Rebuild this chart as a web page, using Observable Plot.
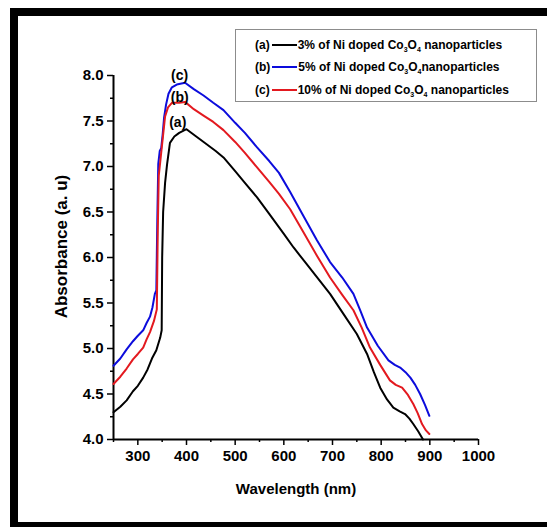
<!DOCTYPE html>
<html><head><meta charset="utf-8">
<script src="https://cdn.jsdelivr.net/npm/d3@7"></script>
<script src="https://cdn.jsdelivr.net/npm/@observablehq/plot@0.6"></script>
<style>
html,body{margin:0;padding:0;background:#fff;}
#wrap{position:relative;width:547px;height:527px;overflow:hidden;font-family:"Liberation Sans",Arial,sans-serif;background:#fff;}
#chart{position:absolute;left:0;top:0;}
.bar{position:absolute;background:#000;}
#legend{position:absolute;left:235px;top:29px;width:302px;height:73px;border:1px solid #8c8c8c;box-sizing:border-box;background:#fff;}
.row{position:absolute;left:19px;height:16px;line-height:16px;font-weight:bold;font-size:12px;white-space:nowrap;color:#000;}
.row .sw{display:inline-block;width:25px;height:2px;vertical-align:middle;margin:0 1px 0 2px;position:relative;top:-1px;}
.row sub{font-size:7px;vertical-align:-3px;line-height:0;}
</style>
</head><body>
<div id="wrap">
  <div id="chart"></div>
  <div id="legend"></div>
  <div class="bar" style="left:10px;top:8px;width:537px;height:8px"></div>
  <div class="bar" style="left:10px;top:8px;width:8px;height:519px"></div>
  <div class="bar" style="left:10px;top:522px;width:537px;height:5px"></div>
</div>
<script>
// ---- data ----
const seriesKeys = ["a", "b", "c"];
const seriesTags = ["(a)", "(b)", "(c)"];
const seriesNames = [
  "3% of Ni doped Co<sub>3</sub>O<sub>4</sub> nanoparticles",
  "5% of Ni doped Co<sub>3</sub>O<sub>4</sub>nanoparticles",
  "10% of Ni doped Co<sub>3</sub>O<sub>4</sub> nanoparticles"
];
const seriesColors = ["#000000", "#0c0cdc", "#e3191f"];

const wlA = [250,264,277,290,300,311,320,329,338,346,349,350,352,356,360,366,375,385,400,420,440,460,476,500,520,545,570,600,620,645,670,695,720,750,771,785,798,812,825,838,849,858,866,876,886];
const absA = [4.30,4.36,4.43,4.53,4.59,4.68,4.77,4.89,4.98,5.12,5.20,6.00,6.50,6.82,7.02,7.26,7.33,7.37,7.41,7.33,7.25,7.17,7.10,6.95,6.82,6.66,6.48,6.26,6.11,5.94,5.77,5.60,5.40,5.16,4.94,4.74,4.57,4.44,4.35,4.31,4.28,4.23,4.17,4.09,4.00];

const wlB = [250,264,277,290,300,311,318,325,330,335,338,340,342,345,348,351,354,358,363,370,380,397,415,435,455,476,500,520,545,570,590,613,640,668,695,720,743,757,771,793,815,828,839,850,860,870,880,890,899];
const absB = [4.81,4.89,4.99,5.08,5.14,5.20,5.28,5.35,5.45,5.60,5.64,6.40,7.03,7.17,7.20,7.35,7.54,7.68,7.80,7.87,7.90,7.92,7.85,7.78,7.70,7.62,7.48,7.37,7.21,7.06,6.93,6.72,6.46,6.19,5.95,5.78,5.60,5.42,5.23,5.03,4.87,4.82,4.79,4.74,4.68,4.60,4.50,4.38,4.26];

const wlC = [250,264,277,290,300,311,318,325,333,339,341,343,347,350,356,362,370,385,397,415,435,455,476,500,520,545,570,590,613,640,668,695,720,743,760,777,798,818,830,843,855,866,875,884,892,899];
const absC = [4.61,4.69,4.78,4.88,4.94,5.01,5.10,5.18,5.30,5.43,6.30,6.90,7.10,7.25,7.55,7.65,7.70,7.70,7.71,7.63,7.56,7.49,7.40,7.27,7.15,6.99,6.83,6.70,6.53,6.28,6.02,5.78,5.59,5.42,5.23,5.01,4.82,4.65,4.60,4.57,4.49,4.39,4.29,4.17,4.10,4.06];

const xMajorTicks = [300,400,500,600,700,800,900,1000];
const xMinorTicks = [250,350,450,550,650,750,850,950];
const yMajorTicks = [4.0,4.5,5.0,5.5,6.0,6.5,7.0,7.5,8.0];
const yMinorTicks = [4.25,4.75,5.25,5.75,6.25,6.75,7.25,7.75];

const peakLabels = ["(c)", "(b)", "(a)"];
const peakLabelX = [386, 386, 382];
const peakLabelY = [8.0, 7.76, 7.48];

const xLabel = "Wavelength (nm)";
const yLabel = "Absorbance (a. u)";

// ---- build ----
const wls = [wlA, wlB, wlC], abss = [absA, absB, absC];
const rows = [];
seriesKeys.forEach((k, i) => wls[i].forEach((w, j) => rows.push({series: k, wl: w, abs: abss[i][j]})));
const peaks = peakLabels.map((t, i) => ({t, x: peakLabelX[i], y: peakLabelY[i]}));

const chart = Plot.plot({
  width: 547, height: 527,
  marginLeft: 113, marginRight: 69, marginTop: 75, marginBottom: 88,
  x: {domain: [250, 1000], label: null},
  y: {domain: [4, 8], label: null},
  color: {domain: seriesKeys, range: seriesColors},
  style: {fontFamily: "'Liberation Sans', Arial, sans-serif", fontWeight: "bold", fontSize: "15px", color: "#000", background: "transparent", overflow: "visible"},
  marks: [
    Plot.axisX(xMinorTicks, {tickSize: 3, strokeWidth: 1.5, tickFormat: () => "", label: null}),
    Plot.axisX(xMajorTicks, {tickSize: 6, tickPadding: 5, strokeWidth: 1.5, tickFormat: d => String(d), label: null}),
    Plot.axisY(yMinorTicks, {tickSize: 3, strokeWidth: 1.5, tickFormat: () => "", label: null}),
    Plot.axisY(yMajorTicks, {tickSize: 6, tickPadding: 4, strokeWidth: 1.5, tickFormat: d => d.toFixed(1), label: null}),
    Plot.ruleX([250], {y1: 4, y2: 8, strokeWidth: 2}),
    Plot.ruleY([4], {x1: 250, x2: 1000, strokeWidth: 2}),
    Plot.line(rows, {x: "wl", y: "abs", z: "series", stroke: "series", strokeWidth: 2}),
    Plot.text(peaks, {x: "x", y: "y", text: "t", fontSize: 14, fontWeight: "bold"}),
    Plot.text([xLabel], {frameAnchor: "bottom", lineAnchor: "middle", textAnchor: "middle", dy: 50, fontSize: 15, fontWeight: "bold"}),
    Plot.text([yLabel], {frameAnchor: "left", textAnchor: "middle", lineAnchor: "middle", rotate: -90, dx: -52, dy: -11, fontSize: 17, fontWeight: "bold", style: "letter-spacing:1.3px"})
  ]
});
document.getElementById("chart").appendChild(chart);

// legend
const leg = document.getElementById("legend");
const rowTops = [7, 29, 52];
seriesKeys.forEach((k, i) => {
  const r = document.createElement("div");
  r.className = "row";
  r.style.top = rowTops[i] + "px";
  r.innerHTML = seriesTags[i] + '<span class="sw" style="background:' + seriesColors[i] + '"></span>' + seriesNames[i];
  leg.appendChild(r);
});
</script>
</body></html>
